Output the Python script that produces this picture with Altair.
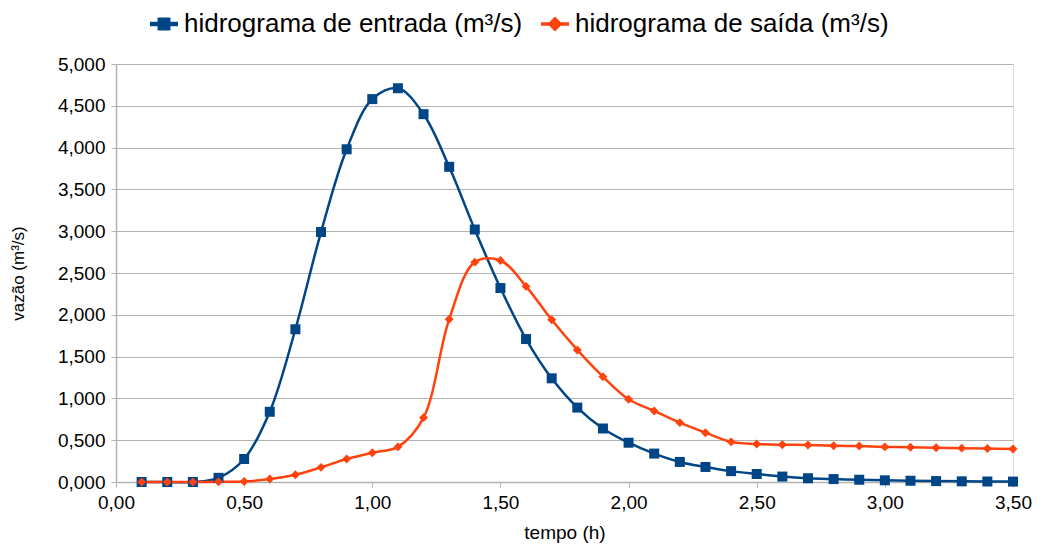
import altair as alt
import pandas as pd

tempo = [0.1, 0.2, 0.3, 0.4, 0.5, 0.6, 0.7, 0.8, 0.9, 1.0,
         1.1, 1.2, 1.3, 1.4, 1.5, 1.6, 1.7, 1.8, 1.9, 2.0,
         2.1, 2.2, 2.3, 2.4, 2.5, 2.6, 2.7, 2.8, 2.9, 3.0,
         3.1, 3.2, 3.3, 3.4, 3.5]
entrada = [0.000, 0.000, 0.000, 0.050, 0.275, 0.840, 1.827, 2.990, 3.980, 4.580,
           4.710, 4.400, 3.770, 3.020, 2.320, 1.710, 1.240, 0.890, 0.640, 0.470,
           0.340, 0.240, 0.180, 0.130, 0.096, 0.065, 0.045, 0.035, 0.027, 0.020,
           0.015, 0.011, 0.008, 0.006, 0.005]
saida = [0.000, 0.000, 0.000, 0.002, 0.005, 0.035, 0.087, 0.175, 0.275, 0.350,
         0.420, 0.770, 1.946, 2.630, 2.650, 2.340, 1.940, 1.580, 1.260, 0.990,
         0.850, 0.710, 0.590, 0.480, 0.455, 0.446, 0.443, 0.434, 0.430, 0.420,
         0.415, 0.410, 0.405, 0.400, 0.395]
series = ["hidrograma de entrada (m³/s)", "hidrograma de saída (m³/s)"]
colors = ["#004586", "#ff420e"]
y_ticks = [0, 0.5, 1, 1.5, 2, 2.5, 3, 3.5, 4, 4.5, 5]
x_ticks = [0, 0.5, 1, 1.5, 2, 2.5, 3, 3.5]

rows = []
for t, v in zip(tempo, entrada):
    rows.append({"tempo": t, "vazao": v, "serie": series[0], "ordem": 0})
for t, v in zip(tempo, saida):
    rows.append({"tempo": t, "vazao": v, "serie": series[1], "ordem": 1})
df = pd.DataFrame(rows)

GRAY = "#b3b3b3"
FONT = "Liberation Sans"

x_enc = alt.X("tempo:Q",
              scale=alt.Scale(domain=[0, 3.5], nice=False, zero=False),
              axis=alt.Axis(values=x_ticks,
                            labelExpr="replace(format(datum.value, '.2f'), '.', ',')",
                            grid=False, title="tempo (h)",
                            titleFontSize=19, titleFontWeight="normal",
                            titleY=50, titleBaseline="middle",
                            labelFontSize=19, labelPadding=6, tickSize=5,
                            labelFlush=False, labelOverlap=False,
                            tickColor=GRAY, domainColor=GRAY, domainWidth=1.5,
                            labelColor="black", titleColor="black",
                            labelFont=FONT, titleFont=FONT))
y_enc = alt.Y("vazao:Q",
              scale=alt.Scale(domain=[0, 5], nice=False),
              axis=alt.Axis(values=y_ticks,
                            labelExpr="replace(format(datum.value, '.3f'), '.', ',')",
                            grid=True, gridColor=GRAY, gridWidth=1,
                            title="vazão (m³/s)",
                            titleFontSize=17, titleFontWeight="normal",
                            titleX=-98, titleY=209, titleBaseline="middle",
                            titleAngle=270,
                            labelFontSize=19, labelPadding=6, tickSize=5,
                            labelFlush=False, labelOverlap=False,
                            tickColor=GRAY, domainColor=GRAY, domainWidth=1.5,
                            labelColor="black", titleColor="black",
                            labelFont=FONT, titleFont=FONT))

base = alt.Chart(df)

line_in = base.transform_filter(alt.datum.ordem == 0).mark_line(
    interpolate="catmull-rom", strokeWidth=2.5, color=colors[0]
).encode(x=x_enc, y=y_enc)

line_out = base.transform_filter(alt.datum.ordem == 1).mark_line(
    interpolate="catmull-rom", strokeWidth=2.5, color=colors[1]
).encode(x=x_enc, y=y_enc)

pts_in = base.transform_filter(alt.datum.ordem == 0).mark_point(
    shape="square", filled=True, size=100, opacity=1, color=colors[0]
).encode(x=x_enc, y=y_enc)

pts_out = base.transform_filter(alt.datum.ordem == 1).mark_point(
    shape="diamond", filled=True, size=80, opacity=1, color=colors[1]
).encode(x=x_enc, y=y_enc)

sym_sq = ("M-1,-0.16 L-0.46,-0.16 L-0.46,-0.46 L0.46,-0.46 L0.46,-0.16 L1,-0.16 "
          "L1,0.16 L0.46,0.16 L0.46,0.46 L-0.46,0.46 L-0.46,0.16 L-1,0.16 Z")
sym_di = ("M-1,-0.13 L-0.41,-0.13 L0,-0.54 L0.41,-0.13 L1,-0.13 L1,0.13 "
          "L0.41,0.13 L0,0.54 L-0.41,0.13 L-1,0.13 Z")

leg = alt.Legend(title=None, orient="none", legendX=34, legendY=-54,
                 direction="horizontal", labelFontSize=26, labelFont=FONT,
                 labelColor="black", labelOffset=6, columnPadding=18,
                 labelLimit=600, symbolSize=784, symbolStrokeWidth=0,
                 symbolOpacity=1)

legend_layer = base.transform_filter("false").mark_point(
    filled=True, opacity=1, size=784
).encode(
    x=x_enc, y=y_enc,
    color=alt.Color("serie:N", scale=alt.Scale(domain=series, range=colors), legend=leg),
    shape=alt.Shape("serie:N", scale=alt.Scale(domain=series, range=[sym_sq, sym_di]), legend=leg),
)

chart = alt.layer(legend_layer, line_in, line_out, pts_in, pts_out).properties(
    width=897, height=418,
    autosize=alt.AutoSizeParams(type="none"),
    padding={"left": 108, "top": 56, "right": 22, "bottom": 63},
).configure_view(stroke=GRAY, strokeWidth=1.5).configure(font=FONT)

chart.save("out.html", embed_options={"renderer": "svg", "actions": False})
